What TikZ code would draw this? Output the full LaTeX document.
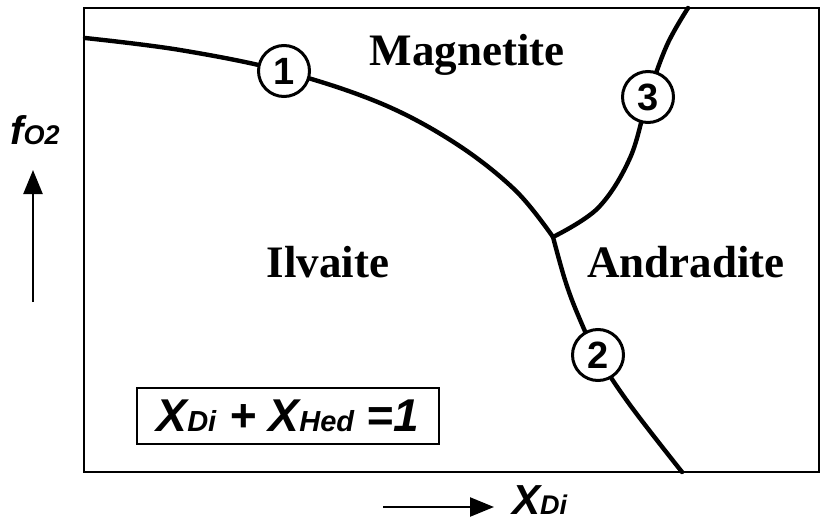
\documentclass[tikz,border=0pt]{standalone}
\usepackage{fontspec}
\setmainfont{Liberation Serif}
\newfontfamily\hv{Liberation Sans}
\usetikzlibrary{arrows.meta}
\tikzset{
  bound/.style={line width=4.4pt, line join=round, line cap=round},
  numcirc/.style={circle, draw, line width=3pt, fill=white, minimum size=51pt, inner sep=0pt, font=\hv\bfseries\fontsize{38}{38}\selectfont},
  field/.style={font=\bfseries\fontsize{45}{45}\selectfont, inner sep=0pt},
  axarrow/.style={line width=2.4pt, -{Triangle[length=24pt,width=19pt]}}
}
\begin{document}
\begin{tikzpicture}[x=1pt,y=-1pt]
\useasboundingbox (0,0) rectangle (821,524);
\draw[line width=2.8pt] (84,8) rectangle (819,472);
\coordinate (j) at (553,237);
\draw[bound] plot[smooth, tension=0.6] coordinates {(85,38) (180,50) (283,71) (380,103) (455,143) (515,190) (j)};
\draw[bound] plot[smooth, tension=0.6] coordinates {(j) (565,280) (578,315) (597,355) (630,405) (682,472)};
\draw[bound] plot[smooth, tension=0.6] coordinates {(j) (598,208) (630,158) (648,97) (667,45) (688,8)};
\node[numcirc] (c1) at (284,71) {1};
\node[numcirc] (c2) at (598,355) {2};
\node[numcirc] (c3) at (648,97) {3};
\node[field] (mag) at (467,55) {Magnetite};
\node[field] (ilv) at (328,262) {Ilvaite};
\node[field] (and) at (686,262) {Andradite};
\node[draw, line width=1.8pt, minimum width=302pt, minimum height=56pt, inner sep=0pt, font=\hv\bfseries\itshape\fontsize{46}{46}\selectfont] (box) at (288,416) {X{\fontsize{29}{29}\selectfont Di} + X{\fontsize{29}{29}\selectfont Hed} =1};
\node[font=\hv\bfseries\itshape\fontsize{40}{40}\selectfont, inner sep=0pt] (fo) at (35,130) {f{\fontsize{27}{27}\selectfont O2}};
\coordinate (ya) at (33,302);
\coordinate (yb) at (33,170);
\draw[axarrow] (ya) -- (yb);
\coordinate (xa) at (383,507);
\coordinate (xb) at (494,507);
\draw[axarrow] (xa) -- (xb);
\node[font=\hv\bfseries\itshape\fontsize{42}{42}\selectfont, inner sep=0pt, anchor=west] (xdi) at (512,500) {X{\fontsize{27}{27}\selectfont Di}};
\end{tikzpicture}
\end{document}
